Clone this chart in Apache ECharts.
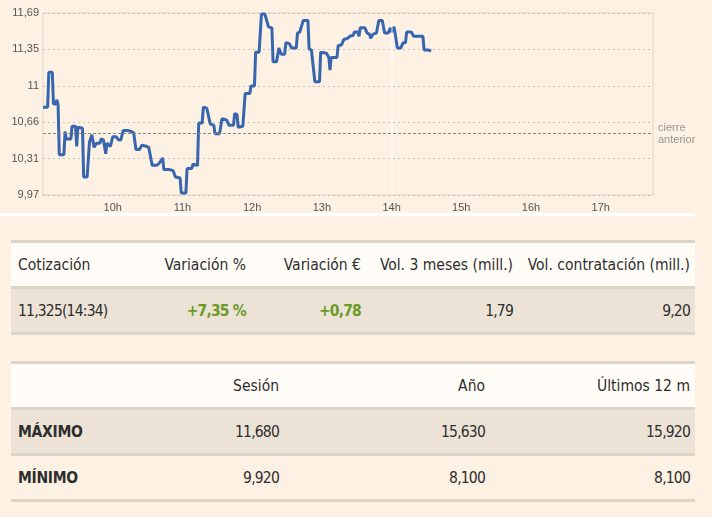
<!DOCTYPE html>
<html>
<head>
<meta charset="utf-8">
<script src="https://cdn.jsdelivr.net/npm/echarts@6/dist/echarts.min.js"></script>
<style>
  body { margin: 0; background: #fdf1e3; font-family: "Liberation Sans Narrow", "DejaVu Sans Condensed", Roboto, sans-serif; color: #2e2e2e; }
  #grafico { position: absolute; left: 0; top: 0; width: 712px; height: 213px; }
  #raya { position: absolute; left: 0; top: 213px; width: 695px; height: 3px; background: #fff; }
  table { position: absolute; left: 11px; width: 684px; border-collapse: collapse; table-layout: fixed; font-size: 15.5px; }
  td { height: 43px; padding: 0 5px 0 7px; border-top: 3px solid #dcd4c9; border-bottom: 3px solid #dcd4c9; text-align: right; white-space: nowrap; }
  td.izq { text-align: left; }
  td.num { letter-spacing: -0.8px; }
  tr.cab td { background: #fffcf7; }
  tr.fila td { background: #ece3d6; }
  .verde { color: #6a9b28; font-weight: bold; }
  .neg { font-weight: bold; letter-spacing: -0.3px; }
  #tabla1 { top: 240px; }
  #tabla2 { top: 361px; }
</style>
</head>
<body>
<div id="grafico"></div>
<div id="raya"></div>

<table id="tabla1">
  <colgroup><col style="width:140px"><col style="width:100px"><col style="width:115px"><col style="width:152px"><col style="width:177px"></colgroup>
  <tr class="cab"><td class="izq">Cotización</td><td>Variación %</td><td>Variación €</td><td>Vol. 3 meses (mill.)</td><td>Vol. contratación (mill.)</td></tr>
  <tr class="fila"><td class="izq num">11,325(14:34)</td><td class="verde num">+7,35 %</td><td class="verde num">+0,78</td><td class="num">1,79</td><td class="num">9,20</td></tr>
</table>

<table id="tabla2">
  <colgroup><col style="width:100px"><col style="width:173px"><col style="width:206px"><col style="width:205px"></colgroup>
  <tr class="cab"><td class="izq"></td><td>Sesión</td><td>Año</td><td>Últimos 12 m</td></tr>
  <tr class="fila"><td class="izq neg">MÁXIMO</td><td class="num">11,680</td><td class="num">15,630</td><td class="num">15,920</td></tr>
  <tr><td class="izq neg">MÍNIMO</td><td class="num">9,920</td><td class="num">8,100</td><td class="num">8,100</td></tr>
</table>

<script>
// datos de la sesión (hora, precio)
var horas = ['9:00','9:04','9:05','9:08','9:09','9:11','9:12','9:13','9:14','9:18','9:19','9:20','9:24','9:25','9:28','9:29','9:30','9:34','9:35','9:38',
    '9:40','9:42','9:44','9:46','9:49','9:50','9:52','9:54','9:55','9:58','10:00','10:03','10:05','10:07','10:09','10:13','10:16','10:18','10:20','10:23',
    '10:25','10:29','10:31','10:34','10:38','10:40','10:43','10:44','10:49','10:52','10:54','10:58','10:59','11:03','11:04','11:08','11:09','11:13','11:14','11:17',
    '11:18','11:21','11:24','11:27','11:28','11:32','11:34','11:38','11:40','11:44','11:45','11:47','11:48','11:52','11:54','11:58','11:59','12:02','12:03','12:06',
    '12:08','12:11','12:14','12:17','12:18','12:21','12:23','12:25','12:28','12:29','12:32','12:34','12:38','12:39','12:41','12:44','12:48','12:49','12:51','12:54',
    '12:58','12:59','13:04','13:06','13:07','13:08','13:13','13:14','13:17','13:19','13:22','13:24','13:27','13:28','13:31','13:32','13:33','13:37','13:39','13:41',
    '13:42','13:44','13:47','13:49','13:52','13:54','13:57','13:59','14:00','14:02','14:03','14:05','14:08','14:10','14:12','14:13','14:17','14:19','14:27','14:28',
    '14:32','14:34'];
var precios = [10.80,10.80,11.13,11.13,10.83,10.83,10.87,10.82,10.35,10.35,10.57,10.50,10.50,10.62,10.62,10.43,10.61,10.60,10.14,10.14,
    10.47,10.54,10.42,10.46,10.46,10.50,10.49,10.36,10.46,10.43,10.52,10.52,10.49,10.49,10.58,10.58,10.57,10.56,10.40,10.40,
    10.44,10.43,10.42,10.25,10.25,10.27,10.32,10.21,10.21,10.20,10.14,10.13,9.99,9.99,10.22,10.22,10.26,10.25,10.65,10.65,
    10.80,10.79,10.64,10.63,10.55,10.55,10.69,10.68,10.63,10.63,10.74,10.73,10.61,10.62,10.93,10.93,11.00,11.00,11.32,11.32,
    11.68,11.68,11.56,11.55,11.23,11.23,11.36,11.30,11.30,11.41,11.40,11.36,11.36,11.50,11.51,11.62,11.62,11.35,11.34,11.04,
    11.04,11.32,11.31,11.27,11.15,11.27,11.27,11.38,11.39,11.44,11.45,11.47,11.48,11.51,11.51,11.47,11.55,11.55,11.50,11.49,
    11.45,11.49,11.50,11.62,11.62,11.50,11.50,11.55,11.51,11.56,11.50,11.36,11.36,11.41,11.41,11.51,11.51,11.47,11.47,11.34,
    11.34,11.33];
var cierreAnterior = 10.55;
var ejeY = { min: 9.97, max: 11.69, paso: 0.344 };
var ejeX = { min: 9, max: 17.75 };

function aHoras(t) {
    var p = t.split(':');
    return Number(p[0]) + Number(p[1]) / 60;
}

var serie = horas.map(function (h, i) { return [aHoras(h), precios[i]]; });

var myChart = echarts.init(document.getElementById('grafico'));

option = {
    backgroundColor: 'transparent',
    textStyle: { fontFamily: 'Liberation Sans, Arial, sans-serif' },
    grid: { left: 43, right: 59, top: 13, bottom: 17, show: true, borderColor: '#ddd5cb', borderWidth: 1 },
    xAxis: {
        type: 'value',
        min: ejeX.min,
        max: ejeX.max,
        interval: 1,
        axisLine: { show: false },
        axisTick: { show: false },
        splitLine: { show: false },
        axisLabel: {
            showMinLabel: false,
            showMaxLabel: false,
            color: '#555',
            fontSize: 11,
            margin: 7,
            formatter: function (v) { return v + 'h'; }
        }
    },
    yAxis: {
        type: 'value',
        min: ejeY.min,
        max: ejeY.max,
        interval: ejeY.paso,
        axisLine: { show: false },
        axisTick: { show: false },
        splitLine: { lineStyle: { color: '#c9c1b6', type: [2, 3] } },
        axisLabel: {
            color: '#555',
            fontSize: 11,
            margin: 4,
            formatter: function (v) {
                var s = v.toFixed(2).replace('.', ',');
                return s.replace(',00', '');
            }
        }
    },
    series: [
        {
            type: 'line',
            data: serie,
            showSymbol: false,
            lineStyle: { color: '#3866ae', width: 3 },
            itemStyle: { color: '#3866ae' },
            markLine: {
                silent: true,
                symbol: 'none',
                data: [
                    {
                        yAxis: cierreAnterior,
                        lineStyle: { color: '#8a857e', type: [3, 2], width: 1 },
                        label: { show: true, position: 'end', formatter: 'cierre\nanterior', color: '#9a9590', fontSize: 11, lineHeight: 12, distance: 5 }
                    },
                    {
                        xAxis: 14,
                        lineStyle: { color: '#ffffff', type: 'solid', width: 1.5, opacity: 0.55 },
                        label: { show: false }
                    }
                ]
            }
        }
    ]
};

myChart.setOption(option);
</script>
</body>
</html>
